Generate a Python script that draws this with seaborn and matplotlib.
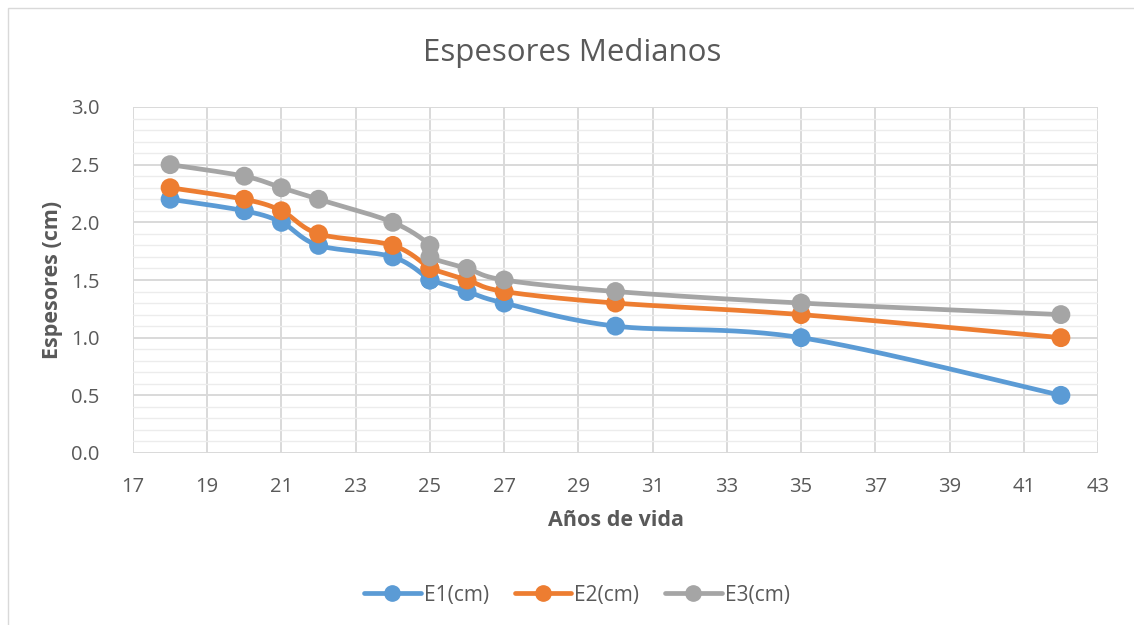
import numpy as np
import pandas as pd
import matplotlib
matplotlib.use("Agg")
import matplotlib.pyplot as plt
from matplotlib.patches import Rectangle
from matplotlib.lines import Line2D
import seaborn as sns

# Ages (years) and median thicknesses (cm) for each series
anos = [18, 20, 21, 22, 24, 25, 25, 26, 27, 30, 35, 42]
e1 = [2.2, 2.1, 2.0, 1.8, 1.7, 1.5, 1.5, 1.4, 1.3, 1.1, 1.0, 0.5]
e2 = [2.3, 2.2, 2.1, 1.9, 1.8, 1.6, 1.6, 1.5, 1.4, 1.3, 1.2, 1.0]
e3 = [2.5, 2.4, 2.3, 2.2, 2.0, 1.8, 1.7, 1.6, 1.5, 1.4, 1.3, 1.2]
series_names = ["E1(cm)", "E2(cm)", "E3(cm)"]
colors = ["#5B9BD5", "#ED7D31", "#A5A5A5"]

title = "Espesores Medianos"
xlabel = "Años de vida"
ylabel = "Espesores (cm)"
xticks = list(range(17, 44, 2))
yticks = [0.0, 0.5, 1.0, 1.5, 2.0, 2.5, 3.0]


def smooth(xs, ys, n=30):
    """Bezier smoothing through every point (control points from neighbours)."""
    p = np.column_stack([xs, ys]).astype(float)
    out = [p[0]]
    t = np.linspace(0, 1, n)[1:]
    for i in range(len(p) - 1):
        p0 = p[i - 1] if i > 0 else p[i]
        p1, p2 = p[i], p[i + 1]
        p3 = p[i + 2] if i + 2 < len(p) else p[i + 1]
        c1 = p1 + (p2 - p0) / 6.0
        c2 = p2 - (p3 - p1) / 6.0
        seg = ((1 - t) ** 3)[:, None] * p1 + (3 * (1 - t) ** 2 * t)[:, None] * c1 \
            + (3 * (1 - t) * t ** 2)[:, None] * c2 + (t ** 3)[:, None] * p2
        out.extend(seg)
    out = np.array(out)
    return out[:, 0], out[:, 1]


sns.set_theme(style="white")
plt.rcParams["font.family"] = ["Open Sans", "DejaVu Sans"]
text_color = "#595959"

fig = plt.figure(figsize=(11.34, 6.25), dpi=100)
fig.patch.set_facecolor("white")
fig.patches.append(Rectangle((8 / 1134, -0.01), 1.02, 1 - 8 / 625 + 0.01,
                             transform=fig.transFigure, fill=False,
                             edgecolor="#d9d9d9", linewidth=1.0))

ax = fig.add_axes([133 / 1134, 1 - 453 / 625, (1098 - 133) / 1134, (453 - 107) / 625])

rows = []
for name, ys in zip(series_names, [e1, e2, e3]):
    sx, sy = smooth(anos, ys)
    rows.append(pd.DataFrame({"x": sx, "y": sy, "serie": name}))
curves = pd.concat(rows, ignore_index=True)
points = pd.concat([pd.DataFrame({"x": anos, "y": ys, "serie": name})
                    for name, ys in zip(series_names, [e1, e2, e3])],
                   ignore_index=True)
palette = dict(zip(series_names, colors))

sns.lineplot(data=curves, x="x", y="y", hue="serie", units="serie",
             estimator=None, sort=False, palette=palette, linewidth=3.4,
             legend=False, ax=ax, zorder=3)
for name in series_names:
    sub = points[points["serie"] == name]
    sns.scatterplot(data=sub, x="x", y="y", color=palette[name], s=185,
                    edgecolor="none", legend=False, ax=ax, zorder=4)

ax.set_xlim(17, 43)
ax.set_ylim(0, 3.0)
ax.set_xticks(xticks)
ax.set_yticks(yticks)
ax.set_yticklabels([f"{v:.1f}" for v in yticks])
ax.set_yticks(np.arange(0, 3.01, 0.1), minor=True)
ax.grid(which="major", color="#d9d9d9", linewidth=1.4)
ax.grid(which="minor", axis="y", color="#ececec", linewidth=1.0)
ax.set_axisbelow(True)
for s in ax.spines.values():
    s.set_visible(False)
ax.tick_params(axis="both", which="both", length=0, labelsize=14.5,
               labelcolor=text_color)
ax.tick_params(axis="x", pad=17)
ax.tick_params(axis="y", pad=24)

ax.set_xlabel(xlabel, fontsize=15.5, fontweight="bold", color=text_color, labelpad=10)
ax.set_ylabel(ylabel, fontsize=15.5, fontweight="bold", color=text_color, labelpad=6)
fig.text(0.505, 1 - 53 / 625, title, ha="center", va="center",
         fontsize=22.5, color=text_color)

handles = [Line2D([0], [0], color=c, linewidth=3.4, marker="o", markersize=11)
           for c in colors]
fig.legend(handles, series_names, loc="center", bbox_to_anchor=(577 / 1134, 1 - 595 / 625),
           ncol=3, frameon=False, fontsize=15, labelcolor=text_color,
           handlelength=2.7, handletextpad=0.15, columnspacing=1.25)

fig.savefig("out.png", dpi=100, facecolor="white")
